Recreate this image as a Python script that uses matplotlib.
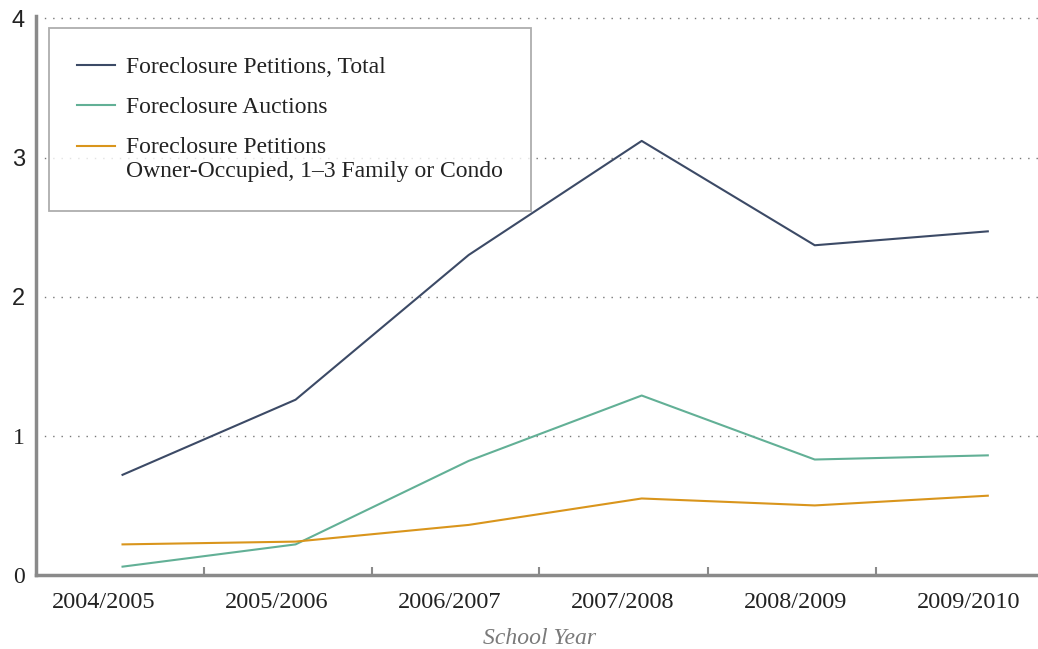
import matplotlib
matplotlib.use("Agg")
import matplotlib.pyplot as plt
from matplotlib.legend_handler import HandlerLine2D
import numpy as np

# School years
years = ["2004/2005", "2005/2006", "2006/2007", "2007/2008", "2008/2009", "2009/2010"]

# Series values
petitions_total = [0.72, 1.26, 2.30, 3.12, 2.37, 2.47]
auctions = [0.06, 0.22, 0.82, 1.29, 0.83, 0.86]
owner_occupied = [0.22, 0.24, 0.36, 0.55, 0.50, 0.57]

y_ticks = [0, 1, 2, 3, 4]

# separator ticks between years (as drawn in the original)
sep_ticks = [0.47, 1.443, 2.408, 3.383, 4.353]

serif = ["Liberation Serif", "DejaVu Serif"]
sans = ["Liberation Sans", "DejaVu Sans"]


class RaisedLine(HandlerLine2D):
    # legend line lifted to sit next to the first line of a two-line label
    def __init__(self, shift, **kw):
        super().__init__(**kw)
        self.shift = shift

    def create_artists(self, legend, orig_handle, xdescent, ydescent, width,
                       height, fontsize, trans):
        arts = super().create_artists(legend, orig_handle, xdescent, ydescent,
                                      width, height, fontsize, trans)
        for a in arts:
            a.set_ydata(np.asarray(a.get_ydata()) + self.shift)
        return arts


fig = plt.figure(figsize=(10.38, 6.49), dpi=100)
ax = fig.add_axes([36 / 1038, 1 - 575 / 649, 1 - 36 / 1038, (575 - 15.7) / 649])

x = np.arange(len(years))
ax.plot(x, petitions_total, color="#3c4a66", lw=1.5, label="Foreclosure Petitions, Total")
ax.plot(x, auctions, color="#62b096", lw=1.5, label="Foreclosure Auctions")
owner_line, = ax.plot(x, owner_occupied, color="#d9951c", lw=1.5,
                      label="Foreclosure Petitions\nOwner-Occupied, 1\u20133 Family or Condo")

ax.set_xlim(-0.5, 5.29)
ax.set_ylim(0, 4.02)

# dotted gridlines
for v in y_ticks[1:]:
    ax.axhline(v, color="#777777", lw=1.0, ls=(0, (1, 5)), zorder=0)

for s in ["top", "right"]:
    ax.spines[s].set_visible(False)
for s in ["left", "bottom"]:
    ax.spines[s].set_color("#8a8a8a")
    ax.spines[s].set_linewidth(2.5)

ax.set_yticks(y_ticks)
ax.set_yticklabels([str(v) for v in y_ticks])
ax.tick_params(axis="y", length=0, pad=8, labelsize=17, labelcolor="#222222")
for lab, v in zip(ax.get_yticklabels(), y_ticks):
    lab.set_family(serif if v < 2 else sans)

ax.set_xticks(sep_ticks)
ax.set_xticklabels([])
ax.tick_params(axis="x", direction="in", length=6, width=1.5, color="#8a8a8a")

for i, yr in enumerate(years):
    ax.text(i - 0.11, -0.12, yr, ha="center", va="top", fontsize=17.5,
            family=serif, color="#222222", transform=ax.transData)

fig.text(540 / 1038, 1 - 638 / 649, "School Year", ha="center", va="center",
         fontsize=17, family=serif, style="italic", color="#7a7a7a")

leg = ax.legend(loc="upper left", bbox_to_anchor=(49 / 1038, 1 - 28 / 649),
                bbox_transform=fig.transFigure, frameon=True, fancybox=False,
                prop={"family": serif, "size": 17}, handlelength=1.6,
                handletextpad=0.45, labelspacing=0.8, borderpad=1.2,
                borderaxespad=0, handler_map={owner_line: RaisedLine(10)})
leg.get_frame().set_edgecolor("#999999")
leg.get_frame().set_linewidth(1.3)
for t in leg.get_texts():
    t.set_color("#222222")
    t.set_linespacing(1.2)

fig.savefig("out.png", dpi=100)
